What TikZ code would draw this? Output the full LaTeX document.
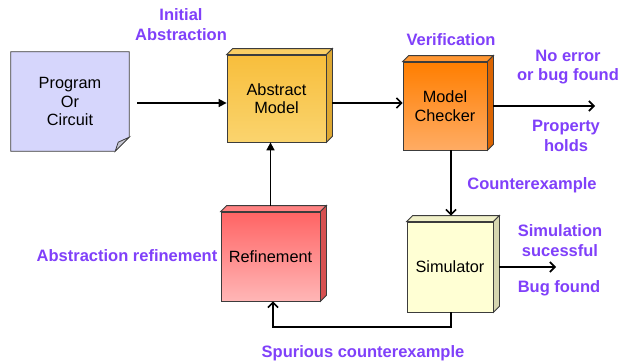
\documentclass[tikz,border=0pt]{standalone}
\usepackage{fontspec}
\setmainfont{Liberation Sans}
\usetikzlibrary{arrows.meta,calc,backgrounds}
\definecolor{lblc}{RGB}{128,64,250}
\definecolor{progc}{RGB}{214,214,252}
\definecolor{foldc}{RGB}{200,200,212}
\definecolor{edgec}{RGB}{60,60,60}
\definecolor{absT}{RGB}{248,190,60}
\definecolor{absB}{RGB}{250,212,110}
\definecolor{absS}{RGB}{222,168,50}
\definecolor{absU}{RGB}{250,206,100}
\definecolor{mcT}{RGB}{255,126,0}
\definecolor{mcB}{RGB}{255,172,100}
\definecolor{mcS}{RGB}{220,100,0}
\definecolor{mcU}{RGB}{255,150,50}
\definecolor{refT}{RGB}{255,100,100}
\definecolor{refB}{RGB}{255,182,182}
\definecolor{refS}{RGB}{214,80,80}
\definecolor{refU}{RGB}{255,130,130}
\definecolor{simF}{RGB}{255,255,212}
\definecolor{simS}{RGB}{214,214,176}
\definecolor{simU}{RGB}{240,240,200}
\newcommand{\cubedeco}[3]{%
  \filldraw[fill=#3,draw=edgec,line width=0.8pt] (#1.north west) -- ++(6,-6) -- ($(#1.north east)+(6,-6)$) -- (#1.north east) -- cycle;
  \filldraw[fill=#2,draw=edgec,line width=0.8pt] (#1.north east) -- ++(6,-6) -- ($(#1.south east)+(6,-6)$) -- (#1.south east) -- cycle;}
\begin{document}
\begin{tikzpicture}[x=1pt,y=-1pt,
  boxtext/.style={font=\fontsize{16.3}{18.5}\selectfont, align=center, inner sep=0pt},
  cube/.style={boxtext, draw=edgec, line width=0.8pt},
  lbl/.style={text=lblc, font=\bfseries\fontsize{16.5}{19.5}\selectfont, align=center, inner sep=0pt},
  conn/.style={line width=1.6pt, draw=black},
  barb/.style={conn, -{Straight Barb[length=5pt,width=10pt,line width=1.6pt]}},
  tri/.style={conn, -{Triangle[length=8pt,width=8pt]}}]
\useasboundingbox (0,0) rectangle (625,364);

% Program or circuit (folded page)
\node[boxtext, minimum width=118pt, minimum height=99pt] (prog) at (70,101.5) {Program\\Or\\Circuit};
\begin{scope}[on background layer]
\fill[white] (0,0) rectangle (625,364);
\filldraw[fill=progc, draw=edgec, line width=0.8pt] (prog.north west) -- (prog.north east) -- ($(prog.south east)+(0,-14)$) -- ($(prog.south east)+(-14,0)$) -- (prog.south west) -- cycle;
\filldraw[fill=foldc, draw=edgec, line width=0.8pt] ($(prog.south east)+(0,-14)$) -- ($(prog.south east)+(-11,-9)$) -- ($(prog.south east)+(-14,0)$) -- cycle;
\end{scope}

% Cubes
\node[cube, top color=absT, bottom color=absB, minimum width=99pt, minimum height=87pt] (abs) at (276.5,98.5) {Abstract\\Model};
\cubedeco{abs}{absS}{absU}
\node[cube, top color=mcT, bottom color=mcB, minimum width=84pt, minimum height=88pt] (mc) at (445,106) {Model\\Checker};
\cubedeco{mc}{mcS}{mcU}
\node[cube, top color=refT, bottom color=refB, minimum width=99pt, minimum height=89pt] (ref) at (270.5,256.5) {Refinement};
\cubedeco{ref}{refS}{refU}
\node[cube, fill=simF, minimum width=86pt, minimum height=90pt] (sim) at (450,267) {Simulator};
\cubedeco{sim}{simS}{simU}

% free ends
\coordinate (okend) at (595,106);
\coordinate (bugend) at (556,267);
\coordinate (loopR) at (451,327);
\coordinate (loopL) at (273,327);

% Connectors
\draw[tri, shorten <=8pt] ([yshift=-1.5pt]prog.east) -- ([yshift=-4.5pt]abs.west);
\draw[barb] ([xshift=6pt,yshift=-4.5pt]abs.east) -- ([yshift=3pt]mc.west);
\draw[barb] ([xshift=6pt]mc.east) -- (okend);
\draw[barb] (mc.south -| loopR) -- ([yshift=6pt]sim.north -| loopR);
\draw[barb] ([xshift=6pt]sim.east) -- (bugend);
\draw[barb] (sim.south -| loopR) -- (loopR) -- (loopL) -- (ref.south -| loopL);
\draw[tri] ([yshift=6pt]ref.north) -- (abs.south -| ref.north);

% Labels
\node[lbl] (linit) at (181,24.5) {Initial\\Abstraction};
\node[lbl] (lver) at (451,40) {Verification};
\node[lbl] (lnoerr) at (568,67) {No error\\or bug found};
\node[lbl] (lprop) at (566,136) {Property\\holds};
\node[lbl] (lcex) at (532,185) {Counterexample};
\node[lbl] (lsim) at (560,240.5) {Simulation\\sucessful};
\node[lbl] (lbug) at (559,288) {Bug found};
\node[lbl] (lref) at (127,256) {Abstraction refinement};
\node[lbl] (lspur) at (363,353) {Spurious counterexample};
\end{tikzpicture}
\end{document}
